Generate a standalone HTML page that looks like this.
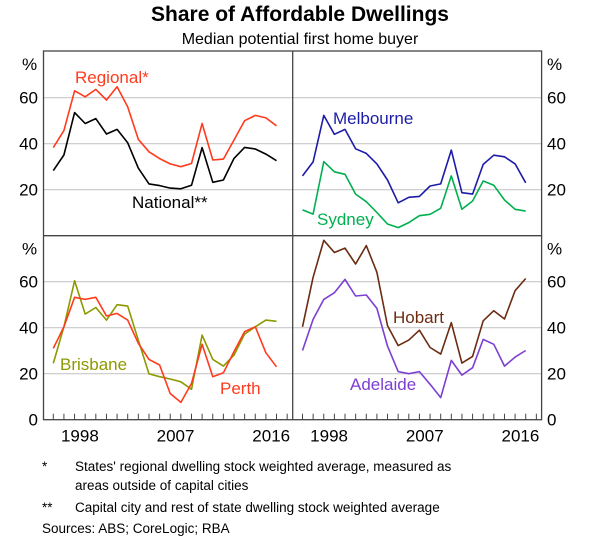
<!DOCTYPE html>
<html><head><meta charset="utf-8"><style>
body{margin:0;background:#fff;}
svg{display:block;font-family:"Liberation Sans",Arial,sans-serif;}
</style></head><body>
<svg id="c" width="600" height="540" viewBox="0 0 600 540">
<text x="300" y="21" text-anchor="middle" font-size="21" font-weight="bold">Share of Affordable Dwellings</text>
<text x="300" y="44" text-anchor="middle" font-size="16">Median potential first home buyer</text>
<g id="grid"></g><g id="series"></g><g id="frame"></g>
<g font-size="13.5">
<text x="42" y="471">*</text>
<text x="75" y="471">States' regional dwelling stock weighted average, measured as</text>
<text x="75" y="490">areas outside of capital cities</text>
<text x="42" y="512">**</text>
<text x="75" y="512">Capital city and rest of state dwelling stock weighted average</text>
<text x="42" y="533">Sources: ABS; CoreLogic; RBA</text>
</g>
</svg>
<script>
const years=[1996,1997,1998,1999,2000,2001,2002,2003,2004,2005,2006,2007,2008,2009,2010,2011,2012,2013,2014,2015,2016,2017];
const yTicks=[20,40,60];
const xLabels=[1998,2007,2016];
const regional=[38.3,45.7,63,60.4,63.6,59,64.8,56,41.9,36.5,33.5,31.2,30,31.4,48.8,32.9,33.3,41.6,50,52.3,51.2,47.8];
const national=[28.3,35.1,53.5,48.8,50.9,44.2,46.2,40.4,29.4,22.5,21.8,20.7,20.4,21.9,38.3,23.2,24.2,33.6,38.4,37.7,35.5,32.6];
const melbourne=[26,32.1,52.3,44.1,46.2,37.8,35.8,31.2,24.2,14.3,16.7,17.1,21.6,22.5,37.2,18.7,18.1,31,35,34.3,31.2,23];
const sydney=[11.2,9.4,32.2,27.8,26.7,18.1,14.8,10.1,5.1,3.5,5.7,8.7,9.3,11.9,26,11.5,15.1,23.8,21.9,15.5,11.5,10.7];
const brisbane=[24.5,40.4,60.4,45.9,48.8,43.3,50,49.4,34.6,19.9,18.7,17.7,16.5,13.2,36.8,26.2,23.3,28.1,37.2,40.4,43.3,42.8];
const perth=[31,40.4,53.2,52.3,53.2,45.1,46.2,43.3,33.2,26.2,23.8,11.4,7.5,15.8,32.8,18.7,20.4,29.6,38.3,40.4,29.1,23];
const hobart=[40.4,61.9,78,72.7,74.6,67.7,75.7,64.1,40.9,32.2,34.6,38.9,31.4,28.5,42.2,24.6,27.5,43,47.4,43.8,56.1,61.4];
const adelaide=[30.1,43.6,52.3,55.2,61,53.8,54.2,48.4,32,20.9,20,20.9,15.4,9.6,25.8,19.4,22.6,34.9,32.8,23.3,27.2,30.1];

const NS="http://www.w3.org/2000/svg";
const L=43.5,M=292.7,R=541.6,T=51,MID=235.7,B=419.7;
const step=10.63;
function mk(tag,attrs,parent){const e=document.createElementNS(NS,tag);for(const k in attrs)e.setAttribute(k,attrs[k]);parent.appendChild(e);return e;}
function xs(year,panelRight){return L+9.8+(year-1996)*step+(panelRight?(M-L):0);}
function ys(v,bottom){return (bottom?B:MID)-v*2.3;}
const grid=document.getElementById('grid'),ser=document.getElementById('series'),fr=document.getElementById('frame');
// gridlines
[false,true].forEach(bottom=>{
  yTicks.forEach(t=>{
    const g=mk('line',{x1:L,x2:R,y1:ys(t,bottom),y2:ys(t,bottom),stroke:'#c8c8c8','stroke-width':1.2},grid);
    
    
  });
});
// frame
const rect=mk('rect',{x:L,y:T,width:R-L,height:B-T,fill:'none',stroke:'#444','stroke-width':1.3},fr);


const vl=mk('line',{x1:M,x2:M,y1:T,y2:B,stroke:'#444','stroke-width':1.3},fr);


const hl=mk('line',{x1:L,x2:R,y1:MID,y2:MID,stroke:'#444','stroke-width':1.3},fr);


// y labels
[false,true].forEach(bottom=>{
  const labs=bottom?[0].concat(yTicks):yTicks;
  labs.forEach(t=>{
    const y=ys(t,bottom)+6;
    const a=mk('text',{x:38,y:y,'text-anchor':'end','font-size':17},fr);a.textContent=t;
    
    
    const b=mk('text',{x:547,y:y,'font-size':17},fr);b.textContent=t;
    
    
  });
  const py=(bottom?MID:T)+19;
  const p1=mk('text',{x:22,y:py,'font-size':17},fr);p1.textContent='%';
  
  
  const p2=mk('text',{x:547,y:py,'font-size':17},fr);p2.textContent='%';
  
  
});
// x ticks & labels
[false,true].forEach(right=>{
  for(let yr=1996;yr<=2018;yr++){
    const x=xs(yr,right)-0.0;
    if(x>(right?R:M)-2)continue;
    const tk=mk('line',{x1:x,x2:x,y1:B,y2:B-6,stroke:'#444','stroke-width':1},fr);
    
    
  }
  xLabels.forEach(yr=>{
    const t=mk('text',{x:xs(yr,right)+step/2,y:B+22,'text-anchor':'middle','font-size':17},fr);t.textContent=yr;
    
    
  });
});
function line(arr,right,bottom,color,name){
  const pts=arr.map((v,i)=>xs(years[i],right).toFixed(1)+','+ys(v,bottom).toFixed(1)).join(' ');
  const p=mk('polyline',{points:pts,fill:'none',stroke:color,'stroke-width':1.6,'stroke-linejoin':'round'},ser);
  
  
}
function lab(txt,x,y,color,name){
  const t=mk('text',{x:x,y:y,fill:color,'font-size':17},ser);t.textContent=txt;
  
  
}
const RED='#ff3b1e';
line(regional,false,false,RED,'regional-line');
line(national,false,false,'#000','national-line');
line(melbourne,true,false,'#1c1ca8','melbourne-line');
line(sydney,true,false,'#00b04f','sydney-line');
line(brisbane,false,true,'#8c9a00','brisbane-line');
line(perth,false,true,RED,'perth-line');
line(hobart,true,true,'#6b2c12','hobart-line');
line(adelaide,true,true,'#7c3fd2','adelaide-line');
lab('Regional*',75,83,RED,'regional-label');
lab('National**',132,208,'#000','national-label');
lab('Melbourne',333,124,'#1c1ca8','melbourne-label');
lab('Sydney',317,225,'#00b04f','sydney-label');
lab('Brisbane',60,370,'#8c9a00','brisbane-label');
lab('Perth',220,394,RED,'perth-label');
lab('Hobart',393,323,'#6b2c12','hobart-label');
lab('Adelaide',350,390,'#7c3fd2','adelaide-label');
</script>
</body></html>
